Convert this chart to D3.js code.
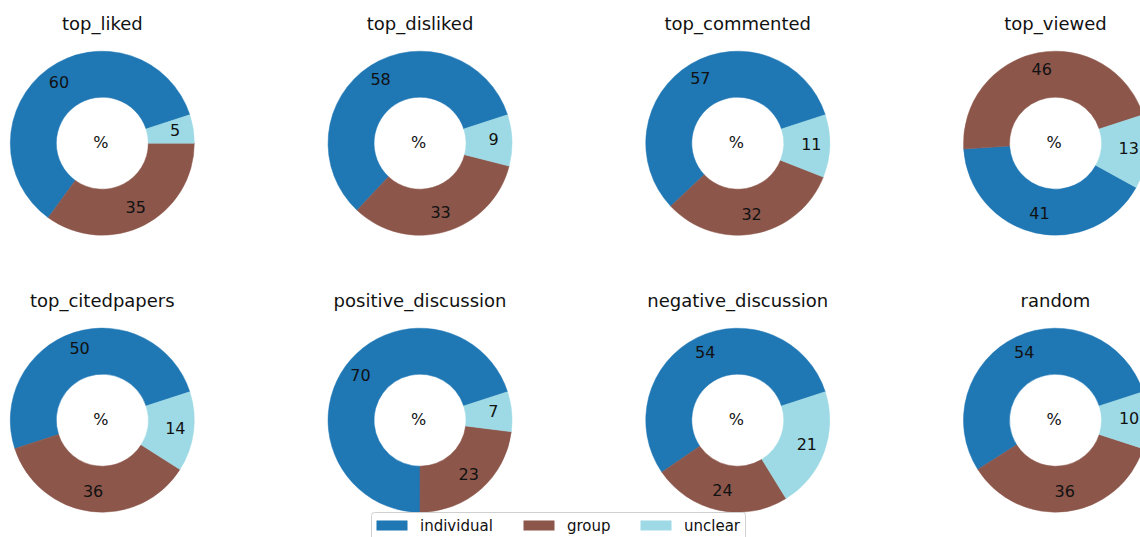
<!DOCTYPE html>
<html>
<head>
<meta charset="utf-8">
<script src="https://cdn.jsdelivr.net/npm/d3@7"></script>
<style>
  html, body { margin: 0; padding: 0; background: #fff; }
  svg { display: block; font-family: "DejaVu Sans", sans-serif; }
</style>
</head>
<body>
<svg id="chart" width="1140" height="537"></svg>
<script>
// ---- data ----
const categories = ["individual", "group", "unclear"];
const panels = ["top_liked", "top_disliked", "top_commented", "top_viewed",
                "top_citedpapers", "positive_discussion", "negative_discussion", "random"];
const individualPct = [60, 58, 57, 41, 50, 70, 54, 54];
const groupPct      = [35, 33, 32, 46, 36, 23, 24, 36];
const unclearPct    = [5, 9, 11, 13, 14, 7, 21, 10];
const colors = ["#1f77b4", "#8c564b", "#9edae5"];

// ---- layout ----
const svg = d3.select("#chart");
const R = 92, r0 = R * 0.5, labelR = R * 0.8;
const xCol = d3.scaleLinear().domain([0, 3]).range([102.3, 1055.5]);
const yRow = d3.scaleLinear().domain([0, 1]).range([143.2, 420.2]);
const color = d3.scaleOrdinal().domain(categories).range(colors);

const startDeg = 18; // start angle (ccw from 3 o'clock), wedges go counter-clockwise
const toRad = d => d * Math.PI / 180;
const pie = d3.pie()
  .value(d => d.value)
  .startAngle(toRad(90 - startDeg))
  .endAngle(toRad(90 - startDeg - 360));
const arc = d3.arc().innerRadius(r0).outerRadius(R);
const labelArc = d3.arc().innerRadius(labelR).outerRadius(labelR);

panels.forEach((name, i) => {
  const cx = xCol(i % 4), cy = yRow(Math.floor(i / 4));
  const data = categories.map((c, k) => ({
    cat: c,
    value: [individualPct, groupPct, unclearPct][k][i]
  }));
  const g = svg.append("g").attr("transform", `translate(${cx},${cy})`);
  const arcs = pie(data);
  g.selectAll("path").data(arcs).join("path")
    .attr("d", arc)
    .attr("fill", d => color(d.data.cat))
    .attr("stroke", d => color(d.data.cat))
    .attr("stroke-width", 0.5);
  g.selectAll("text.lbl").data(arcs).join("text")
    .attr("class", "lbl")
    .attr("transform", d => `translate(${labelArc.centroid(d)})`)
    .attr("text-anchor", "middle")
    .attr("dy", "0.26em")
    .attr("font-size", 16)
    .attr("fill", "#111")
    .text(d => d.data.value);
  g.append("text")
    .attr("text-anchor", "middle")
    .attr("x", -1.5)
    .attr("dy", "0.3em")
    .attr("font-size", 16)
    .attr("fill", "#111")
    .text("%");
  g.append("text")
    .attr("text-anchor", "middle")
    .attr("y", -113.3)
    .attr("font-size", 18)
    .attr("fill", "#111")
    .text(name);
});

// ---- legend ----
const leg = svg.append("g").attr("transform", "translate(371.5,512.5)");
leg.append("rect")
  .attr("width", 374).attr("height", 34)
  .attr("rx", 3).attr("ry", 3)
  .attr("fill", "#fff").attr("fill-opacity", 0.8)
  .attr("stroke", "#d0d0d0").attr("stroke-width", 1);
const legX = [5, 152, 269];
const legItems = leg.selectAll("g.item").data(categories).join("g")
  .attr("class", "item")
  .attr("transform", (d, k) => `translate(${legX[k]},8)`);
legItems.append("rect")
  .attr("width", 31).attr("height", 10)
  .attr("fill", d => color(d));
legItems.append("text")
  .attr("x", 43.5).attr("y", 5).attr("dy", "0.36em")
  .attr("font-size", 15)
  .attr("fill", "#111")
  .text(d => d);
</script>
</body>
</html>
